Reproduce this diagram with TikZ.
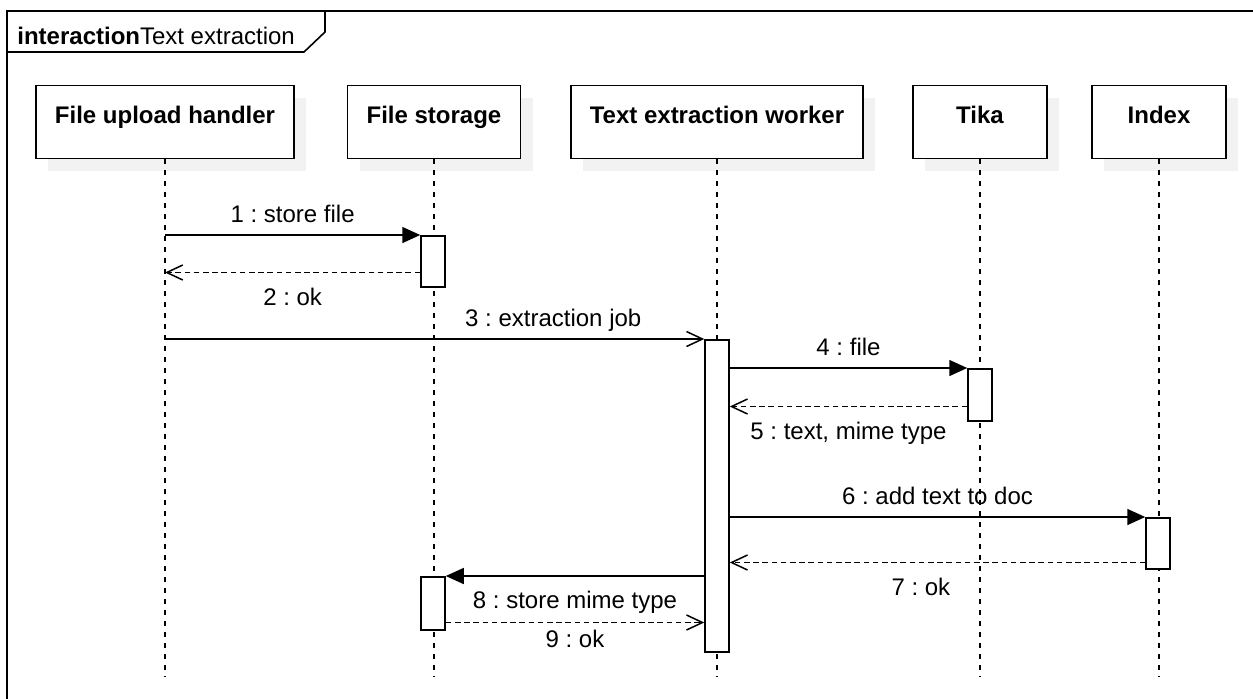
\documentclass[tikz,border=0pt]{standalone}
\usepackage{fontspec}
\setmainfont{Liberation Sans}
\usetikzlibrary{arrows.meta}
\usetikzlibrary{shadows}
\frenchspacing

\tikzset{
    lifebox/.style={draw, fill=white, line width=0.8pt, inner sep=0pt,
        text height=19pt, text depth=17.5pt, font=\fontsize{12}{14}\selectfont\bfseries,
        drop shadow={fill=black!5, opacity=1, shadow xshift=6pt, shadow yshift=-6pt}},
    lifeline/.style={line width=0.7pt, dash pattern=on 2.5pt off 3pt},
    actbar/.style={draw, fill=white, line width=0.75pt, inner sep=0pt, minimum width=12pt, anchor=north},
    callmsg/.style={-{Triangle[length=9pt,width=8pt]}, line width=0.75pt},
    asyncmsg/.style={-{Straight Barb[length=8pt,width=7.5pt]}, line width=0.75pt},
    replymsg/.style={asyncmsg, dash pattern=on 2.8pt off 1.8pt},
    msglabel/.style={inner sep=1pt, text height=8.6pt, text depth=2.5pt}
}

\begin{document}
\begin{tikzpicture}[x=0.5pt, y=-0.5pt, font=\fontsize{12}{14}\selectfont]
    \useasboundingbox (0,0) rectangle (1253,698);

    % Frame and its title
    \draw[line width=0.8pt] (7,706) -- (7,11) -- (1262,11);
    \draw[line width=0.8pt] (7,52) -- (304,52) -- (325,32) -- (325,11);
    \node[anchor=base west, inner sep=0pt] (title) at (17,44) {\textbf{interaction}Text extraction};

    % Participants
    \node[lifebox, minimum width=129pt] (upload) at (165,122) {File upload handler};
    \node[lifebox, minimum width=86.5pt] (storage) at (434,122) {File storage};
    \node[lifebox, minimum width=146pt] (worker) at (717,122) {Text extraction worker};
    \node[lifebox, minimum width=67pt] (tika) at (980,122) {Tika};
    \node[lifebox, minimum width=67pt] (index) at (1159,122) {Index};

    % Lifelines
    \coordinate (lineend) at (0,677);
    \foreach \p in {upload, storage, worker, tika, index}
        \draw[lifeline] (\p.south) -- (\p.south |- lineend);

    % Activation bars
    \node[actbar, minimum height=25.5pt] (storeA) at (433,235) {};
    \node[actbar, minimum height=156pt] (workerA) at (717,339) {};
    \node[actbar, minimum height=26pt] (tikaA) at (980,368) {};
    \node[actbar, minimum height=25.5pt] (indexA) at (1158,517) {};
    \node[actbar, minimum height=26.5pt] (storeB) at (433,576) {};

    % Return points on the bars
    \coordinate (ret2) at ([yshift=7.5pt]storeA.south west);
    \coordinate (ret5) at ([yshift=7.5pt]tikaA.south west);
    \coordinate (ret7) at ([yshift=3.5pt]indexA.south west);
    \coordinate (ret9) at ([yshift=4pt]storeB.south east);

    % Messages
    \draw[callmsg] (upload.south |- storeA.north) -- (storeA.north west)
        node[msglabel, midway, above=2.5pt] {1 : store file};
    \draw[replymsg] (ret2) -- (upload.south |- ret2)
        node[msglabel, midway, below=6.5pt] {2 : ok};
    \draw[asyncmsg] (upload.south |- workerA.north) -- (workerA.north west)
        node[msglabel, pos=0.72, above=2.5pt] {3 : extraction job};
    \draw[callmsg] (workerA.east |- tikaA.north) -- (tikaA.north west)
        node[msglabel, midway, above=2.5pt] {4 : file};
    \draw[replymsg] (ret5) -- (workerA.east |- ret5)
        node[msglabel, midway, below=6.5pt] {5 : text, mime type};
    \draw[callmsg] (workerA.east |- indexA.north) -- (indexA.north west)
        node[msglabel, midway, above=2.5pt] {6 : add text to doc};
    \draw[replymsg] (ret7) -- (workerA.east |- ret7)
        node[msglabel, pos=0.54, below=6.5pt] {7 : ok};
    \draw[callmsg] (workerA.west |- storeB.north) -- (storeB.north east)
        node[msglabel, midway, below=6.5pt] {8 : store mime type};
    \draw[replymsg] (ret9) -- (workerA.west |- ret9)
        node[msglabel, midway, below=2.5pt] {9 : ok};
\end{tikzpicture}
\end{document}
